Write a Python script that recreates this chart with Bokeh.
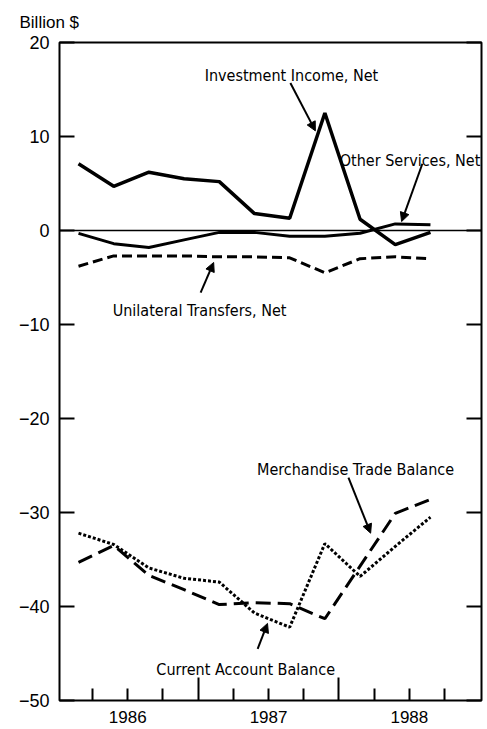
from bokeh.plotting import figure
from bokeh.models import Range1d, LinearAxis, FixedTicker, Arrow, NormalHead, Label, Span
from bokeh.embed import file_html
from bokeh.resources import INLINE

# Quarterly data, 1986 Q1 .. 1988 Q3 (billion $)
quarters = ["1986 Q1", "1986 Q2", "1986 Q3", "1986 Q4",
            "1987 Q1", "1987 Q2", "1987 Q3", "1987 Q4",
            "1988 Q1", "1988 Q2", "1988 Q3"]
investment_income = [7.1, 4.7, 6.2, 5.5, 5.2, 1.8, 1.3, 12.5, 1.2, -1.5, -0.2]
other_services = [-0.3, -1.4, -1.8, -1.0, -0.2, -0.2, -0.6, -0.6, -0.3, 0.7, 0.6]
unilateral_transfers = [-3.8, -2.7, -2.7, -2.7, -2.8, -2.8, -2.9, -4.5, -3.0, -2.8, -3.0]
merchandise_trade = [-35.3, -33.5, -36.7, -38.2, -39.8, -39.6, -39.7, -41.3, -35.7, -30.1, -28.6]
current_account = [-32.2, -33.4, -35.9, -37.0, -37.4, -40.7, -42.2, -33.3, -36.8, -33.6, -30.5]

y_ticks = [20, 10, 0, -10, -20, -30, -40, -50]
y_tick_labels = ["20", "10", "0", "\u221210", "\u221220", "\u221230", "\u221240", "\u221250"]
year_ticks = [3.4, 7.4]                      # year boundaries (long ticks)
quarter_ticks = [0.4, 1.4, 2.4, 4.4, 5.4, 6.4, 8.4, 9.4, 10.4]
year_label_pos = [1.4, 5.4, 9.4]
year_labels = ["1986", "1987", "1988"]

x = list(range(len(quarters)))

FONT = "Liberation Sans"
NARROW = "DejaVu Sans Condensed"

p = figure(width=487, height=729, output_backend="svg", toolbar_location=None,
           x_range=Range1d(-0.54, 11.45), y_range=Range1d(-50, 20),
           x_axis_location=None, y_axis_location=None,
           min_border_left=59, min_border_right=6, min_border_top=42, min_border_bottom=29)
p.grid.visible = False
p.outline_line_color = "black"
p.outline_line_width = 2
p.background_fill_color = "white"
p.border_fill_color = "white"

p.title.text = "Billion $"
p.title.align = "left"
p.title.offset = -40
p.title.text_font = FONT
p.title.text_font_size = "17px"
p.title.text_font_style = "normal"
p.title.text_color = "black"
p.title.standoff = 21

# left axis
left = LinearAxis(ticker=FixedTicker(ticks=y_ticks, minor_ticks=[]),
                  major_label_overrides={t: l for t, l in zip(y_ticks, y_tick_labels)})
left.major_tick_in = 15
left.major_tick_out = 0
left.major_tick_line_width = 2
left.major_tick_line_color = "black"
left.axis_line_color = None
left.major_label_standoff = 10
left.major_label_text_font = FONT
left.major_label_text_font_size = "18px"
left.major_label_text_color = "black"
p.add_layout(left, "left")

# right axis (ticks only)
right = LinearAxis(ticker=FixedTicker(ticks=y_ticks, minor_ticks=[]),
                   major_label_overrides={t: "" for t in y_ticks})
right.major_tick_in = 15
right.major_tick_out = 0
right.major_tick_line_width = 2
right.major_tick_line_color = "black"
right.axis_line_color = None
right.major_label_standoff = 0
right.major_label_text_font_size = "0px"
p.add_layout(right, "right")

# bottom axis with quarter ticks (long at year boundaries)
bottom_ticks = LinearAxis(ticker=FixedTicker(ticks=year_ticks, minor_ticks=quarter_ticks),
                          major_label_overrides={t: "" for t in year_ticks})
bottom_ticks.major_tick_in = 23
bottom_ticks.major_tick_out = 0
bottom_ticks.minor_tick_in = 12
bottom_ticks.minor_tick_out = 0
bottom_ticks.major_tick_line_width = 2
bottom_ticks.minor_tick_line_width = 2
bottom_ticks.major_tick_line_color = "black"
bottom_ticks.minor_tick_line_color = "black"
bottom_ticks.axis_line_color = None
bottom_ticks.major_label_standoff = 0
bottom_ticks.major_label_text_font_size = "0px"
p.add_layout(bottom_ticks, "below")

# bottom axis with year labels
bottom_labels = LinearAxis(ticker=FixedTicker(ticks=year_label_pos, minor_ticks=[]),
                           major_label_overrides={t: l for t, l in zip(year_label_pos, year_labels)})
bottom_labels.major_tick_line_color = None
bottom_labels.major_tick_in = 0
bottom_labels.major_tick_out = 0
bottom_labels.axis_line_color = None
bottom_labels.major_label_standoff = 10
bottom_labels.major_label_text_font = FONT
bottom_labels.major_label_text_font_size = "17px"
bottom_labels.major_label_text_color = "black"
p.add_layout(bottom_labels, "below")

p.add_layout(Span(location=0, dimension="width", line_color="black", line_width=1.5))

p.line(x, investment_income, line_color="black", line_width=3.5)
p.line(x, other_services, line_color="black", line_width=3)
p.line(x, unilateral_transfers, line_color="black", line_width=3, line_dash="10 5")
p.line(x, merchandise_trade, line_color="black", line_width=3, line_dash="15 7")
p.line(x, current_account, line_color="black", line_width=3, line_dash="3 2")

labels = [
    ("Investment Income, Net", 6.05, 16.5),
    ("Other Services, Net", 9.42, 7.45),
    ("Unilateral Transfers, Net", 3.44, -8.5),
    ("Merchandise Trade Balance", 7.87, -25.4),
    ("Current Account Balance", 4.75, -46.7),
]
for txt, lx, ly in labels:
    p.add_layout(Label(x=lx, y=ly, text=txt, text_align="center", text_baseline="alphabetic",
                       text_font=NARROW, text_font_size="16px", text_color="black"))

arrows = [
    (6.02, 15.7, 6.73, 10.6),
    (9.77, 7.1, 9.18, 0.95),
    (3.47, -6.6, 3.84, -3.4),
    (7.67, -26.3, 8.3, -32.2),
    (5.09, -44.5, 5.37, -41.8),
]
for xs, ys, xe, ye in arrows:
    p.add_layout(Arrow(end=NormalHead(size=9, fill_color="black", line_color="black"),
                       x_start=xs, y_start=ys, x_end=xe, y_end=ye,
                       line_color="black", line_width=2))

open("out.html", "w").write(file_html(p, INLINE))
